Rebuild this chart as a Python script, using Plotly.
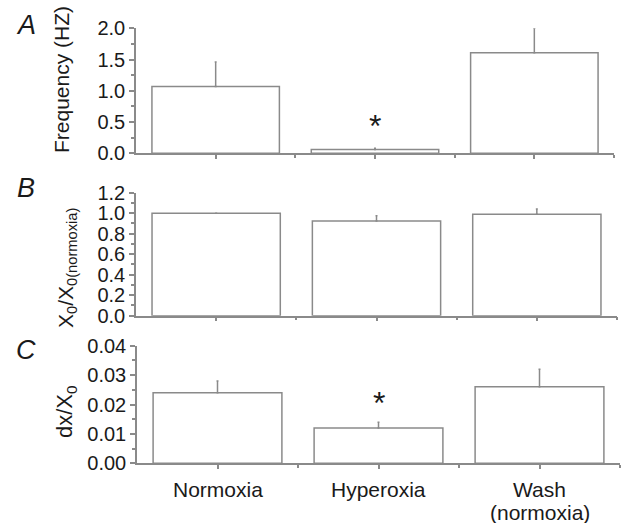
import plotly.graph_objects as go

categories = ["Normoxia", "Hyperoxia", "Wash<br>(normoxia)"]
freq = [1.07, 0.06, 1.61]
freq_err = [0.39, 0.02, 0.39]
x0_ratio = [1.00, 0.925, 0.99]
x0_err = [0.0, 0.05, 0.05]
dx_x0 = [0.024, 0.012, 0.026]
dx_err = [0.004, 0.002, 0.006]
star_A = (1, 0.5)
star_C = (1, 0.022)

FONT = "Liberation Sans, Arial, sans-serif"
LINE = "#8a8a8a"
TXT = "#1a1a1a"
W, H = 621, 523

xpos = [0, 1, 2]

fig = go.Figure()

panels = [
    ("x", "y", freq, freq_err),
    ("x2", "y2", x0_ratio, x0_err),
    ("x3", "y3", dx_x0, dx_err),
]
for xa, ya, vals, errs in panels:
    fig.add_trace(go.Bar(
        x=xpos, y=vals, xaxis=xa, yaxis=ya, width=0.8,
        marker=dict(color="white", line=dict(color=LINE, width=1.5)),
        error_y=dict(type="data", array=errs, arrayminus=[0]*len(errs),
                     symmetric=False, color=LINE, thickness=1.5, width=1),
        showlegend=False, hoverinfo="skip",
    ))

def px_x(a, b):
    return [a / W, b / W]

def px_y(top, bot):
    return [1 - bot / H, 1 - top / H]

common_x = dict(range=[-0.5, 2.5], showline=True, linecolor=LINE, linewidth=1.5,
                ticks="outside", ticklen=4, tickcolor=LINE, tickwidth=1.5,
                tickvals=xpos, showgrid=False, zeroline=False, automargin=False,
                showticklabels=False,
                minor=dict(tickvals=[0.5, 1.5, 2.5], ticks="outside", ticklen=3,
                           tickcolor=LINE, tickwidth=1.5))
common_y = dict(showline=True, linecolor=LINE, linewidth=1.5, ticks="outside",
                ticklen=5, tickcolor=LINE, tickwidth=1.5, showgrid=False,
                zeroline=False, automargin=False,
                tickfont=dict(family=FONT, size=20, color=TXT))

fig.update_layout(
    template="none",
    width=W, height=H, margin=dict(l=0, r=0, t=0, b=0, pad=0),
    paper_bgcolor="white", plot_bgcolor="white",
    font=dict(family=FONT, size=20, color=TXT),
    xaxis=dict(domain=px_x(136, 614), anchor="y", **common_x),
    xaxis2=dict(domain=px_x(136, 617), anchor="y2", **common_x),
    xaxis3=dict(domain=px_x(137, 620), anchor="y3", **common_x),
    yaxis=dict(domain=px_y(28.3, 153.3), anchor="x", range=[0, 2.0], dtick=0.5,
               tickformat=".1f", minor=dict(dtick=0.25, ticks="outside", ticklen=3,
                                            tickcolor=LINE), **common_y),
    yaxis2=dict(domain=px_y(192.7, 315.7), anchor="x2", range=[0, 1.2], dtick=0.2,
                tickformat=".1f", minor=dict(dtick=0.1, ticks="outside", ticklen=3,
                                             tickcolor=LINE), **common_y),
    yaxis3=dict(domain=px_y(345.7, 463.3), anchor="x3", range=[0, 0.04], dtick=0.01,
                tickformat=".2f", minor=dict(dtick=0.005, ticks="outside", ticklen=3,
                                             tickcolor=LINE), **common_y),
)

ann = []
# category labels under panel C (line spacing tighter than Plotly's default)
for xi, cat in zip(xpos, categories):
    for li, line in enumerate(cat.split("<br>")):
        ann.append(dict(text=line, x=xi, xref="x3", y=1 - (489 + 23 * li) / H,
                        yref="paper", showarrow=False, xanchor="center",
                        yanchor="middle", font=dict(family=FONT, size=21, color=TXT)))
# Panel letters
for letter, yc in [("A", 25), ("B", 188), ("C", 350)]:
    ann.append(dict(text="<i>" + letter + "</i>", x=26 / W, y=1 - yc / H,
                    xref="paper", yref="paper",
                    showarrow=False, xanchor="center", yanchor="middle",
                    font=dict(family=FONT, size=27, color=TXT)))
# y-axis titles
ann.append(dict(text="Frequency (HZ)", x=62 / W, y=1 - 80 / H, xref="paper", yref="paper",
                showarrow=False, textangle=-90, xanchor="center", yanchor="middle",
                font=dict(family=FONT, size=21, color=TXT)))
ann.append(dict(text="X<sub>0</sub>/X<sub>0(normoxia)</sub>", x=67 / W, y=1 - 268 / H,
                xref="paper", yref="paper", showarrow=False, textangle=-90,
                xanchor="center", yanchor="middle",
                font=dict(family=FONT, size=21, color=TXT)))
ann.append(dict(text="dx/X<sub>0</sub>", x=66 / W, y=1 - 412 / H, xref="paper", yref="paper",
                showarrow=False, textangle=-90, xanchor="center", yanchor="middle",
                font=dict(family=FONT, size=22, color=TXT)))
# significance stars
for (sx, sy), xr, yr in [(star_A, "x", "y"), (star_C, "x3", "y3")]:
    ann.append(dict(text="*", x=sx, y=sy, xref=xr, yref=yr, showarrow=False,
                    xanchor="center", yanchor="middle", yshift=-4,
                    font=dict(family=FONT, size=32, color=TXT)))

fig.update_layout(annotations=ann)

fig.write_html("out.html")
